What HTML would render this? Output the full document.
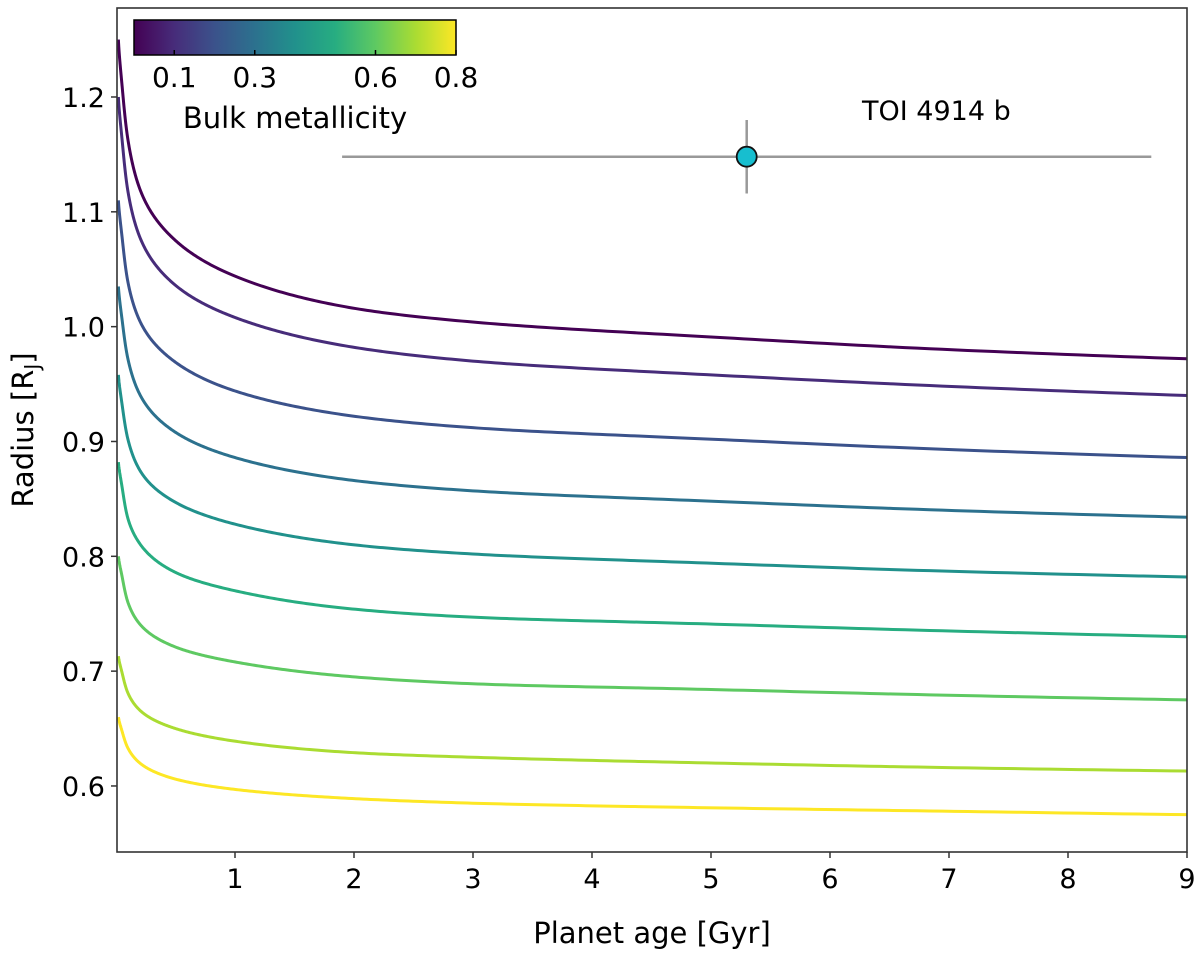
<!DOCTYPE html>
<html><head><meta charset="utf-8"><style>
body{margin:0;background:#fff}
svg text{font-family:"DejaVu Sans","Liberation Sans",sans-serif;fill:#000}
</style></head><body>
<svg id="chart" width="1200" height="952" viewBox="0 0 1200 952" xmlns="http://www.w3.org/2000/svg">
<defs><linearGradient id="vir" x1="0" x2="1" y1="0" y2="0">
<stop offset="0" stop-color="#440154"/><stop offset="0.125" stop-color="#472c7a"/><stop offset="0.25" stop-color="#3b528b"/><stop offset="0.375" stop-color="#2c718e"/><stop offset="0.5" stop-color="#21918c"/><stop offset="0.625" stop-color="#27ad81"/><stop offset="0.75" stop-color="#5ec962"/><stop offset="0.875" stop-color="#aadc32"/><stop offset="1" stop-color="#fde725"/></linearGradient></defs>
<g id="curves"></g>
<g id="axes"></g>
<g id="pt"></g>
<text x="862" y="120" font-size="27">TOI 4914 b</text>
<g id="cbar">
<rect x="134" y="20" width="322" height="35" fill="url(#vir)" stroke="#000" stroke-width="1.5"/>
</g>
<text x="295" y="128" font-size="29" text-anchor="middle">Bulk metallicity</text>
<text x="652" y="943" font-size="29" text-anchor="middle">Planet age [Gyr]</text>
<text transform="translate(33,430) rotate(-90)" font-size="29" text-anchor="middle">Radius [R<tspan font-size="20" dy="6">J</tspan><tspan dy="-6">]</tspan></text>
</svg>
<script>
const ages=[0.02,0.05,0.1,0.2,0.5,1,2,3,5,7,9];
const metallicities=[0,0.1,0.2,0.3,0.4,0.5,0.6,0.7,0.8];
const r0=[1.25,1.211,1.163,1.120,1.075,1.044,1.016,1.004,0.991,0.980,0.972];
const r1=[1.20,1.164,1.118,1.078,1.036,1.008,0.982,0.970,0.958,0.948,0.940];
const r2=[1.11,1.079,1.039,1.005,0.969,0.944,0.922,0.912,0.902,0.893,0.886];
const r3=[1.035,1.007,0.972,0.941,0.908,0.886,0.866,0.857,0.848,0.840,0.834];
const r4=[0.958,0.933,0.902,0.875,0.847,0.828,0.810,0.802,0.794,0.787,0.782];
const r5=[0.882,0.861,0.833,0.811,0.786,0.770,0.754,0.747,0.741,0.735,0.730];
const r6=[0.80,0.783,0.760,0.741,0.721,0.708,0.695,0.689,0.684,0.679,0.675];
const r7=[0.713,0.699,0.681,0.666,0.650,0.639,0.629,0.625,0.620,0.616,0.613];
const r8=[0.66,0.648,0.633,0.620,0.606,0.597,0.589,0.585,0.581,0.578,0.575];
const radii=[r0,r1,r2,r3,r4,r5,r6,r7,r8];
const colors=["#440154","#472c7a","#3b528b","#2c718e","#21918c","#27ad81","#5ec962","#aadc32","#fde725"];
const xTicks=[1,2,3,4,5,6,7,8,9];
const yTicks=[0.6,0.7,0.8,0.9,1.0,1.1,1.2];
const cbTicks=[0.1,0.3,0.6,0.8];
const planetAge=5.3, planetAgeLo=1.9, planetAgeHi=8.7;
const planetR=1.148, planetRLo=1.116, planetRHi=1.180;

const L=117,R=1187,T=8,B=852;
const X=t=>116+(t-0)*(1187-116)/9;
const Y=r=>B-(r-0.5425)*(B-T)/(1.2775-0.5425);
const CB=z=>134+z*(456-134)/0.8;
const NS="http://www.w3.org/2000/svg";
function mk(tag,attrs,parent){const e=document.createElementNS(NS,tag);for(const k in attrs)e.setAttribute(k,attrs[k]);parent.appendChild(e);return e;}

// monotone cubic interpolation in log(age) space, densely sampled
function interp(xs,ys){
  const n=xs.length,d=[],m=[];
  for(let i=0;i<n-1;i++)d.push((ys[i+1]-ys[i])/(xs[i+1]-xs[i]));
  m[0]=d[0];m[n-1]=d[n-2];
  for(let i=1;i<n-1;i++){m[i]=(d[i-1]*d[i]<=0)?0:(d[i-1]+d[i])/2;}
  return x=>{let i=0;while(i<n-2&&x>xs[i+1])i++;
    const h=xs[i+1]-xs[i],s=(x-xs[i])/h,s2=s*s,s3=s2*s;
    return (2*s3-3*s2+1)*ys[i]+(s3-2*s2+s)*h*m[i]+(-2*s3+3*s2)*ys[i+1]+(s3-s2)*h*m[i+1];};
}
const cg=document.getElementById('curves');
const lx=ages.map(a=>Math.log(a));
radii.forEach((rr,i)=>{
  const f=interp(lx,rr);
  let s="";
  for(let k=0;k<=400;k++){
    const la=lx[0]+(lx[lx.length-1]-lx[0])*k/400;
    s+=(k?"L":"M")+X(Math.exp(la)).toFixed(2)+","+Y(f(la)).toFixed(2);
  }
  const p=mk('path',{d:s,fill:'none',stroke:colors[i],'stroke-width':3,'stroke-linejoin':'round'},cg);
  
  
});
const ax=document.getElementById('axes');
const fr=mk('rect',{x:L,y:T,width:R-L,height:B-T,fill:'none',stroke:'#333','stroke-width':1.6},ax);


xTicks.forEach(t=>{
  mk('line',{x1:X(t),x2:X(t),y1:B,y2:B+6,stroke:'#333','stroke-width':1.5},ax);
  const tx=mk('text',{x:X(t),y:B+36,'font-size':27,'text-anchor':'middle'},ax);tx.textContent=t;
  
  
});
yTicks.forEach(r=>{
  mk('line',{x1:L-6,x2:L,y1:Y(r),y2:Y(r),stroke:'#333','stroke-width':1.5},ax);
  const tx=mk('text',{x:L-12,y:Y(r)+10,'font-size':27,'text-anchor':'end'},ax);tx.textContent=r.toFixed(1);
  
  
});
const cb=document.getElementById('cbar');
cbTicks.forEach(z=>{
  mk('line',{x1:CB(z),x2:CB(z),y1:55,y2:50,stroke:'#000','stroke-width':1.5},cb);
  const tx=mk('text',{x:CB(z),y:87,'font-size':28,'text-anchor':'middle'},cb);tx.textContent=z;
  
  
});
const pg=document.getElementById('pt');
mk('line',{x1:X(planetAgeLo),x2:X(planetAgeHi),y1:Y(planetR),y2:Y(planetR),stroke:'#999','stroke-width':2.5},pg);
mk('line',{x1:X(planetAge),x2:X(planetAge),y1:Y(planetRLo),y2:Y(planetRHi),stroke:'#999','stroke-width':2.5},pg);
const c=mk('circle',{cx:X(planetAge),cy:Y(planetR),r:10,fill:'#17becf',stroke:'#111','stroke-width':1.8},pg);


</script>
</body></html>
